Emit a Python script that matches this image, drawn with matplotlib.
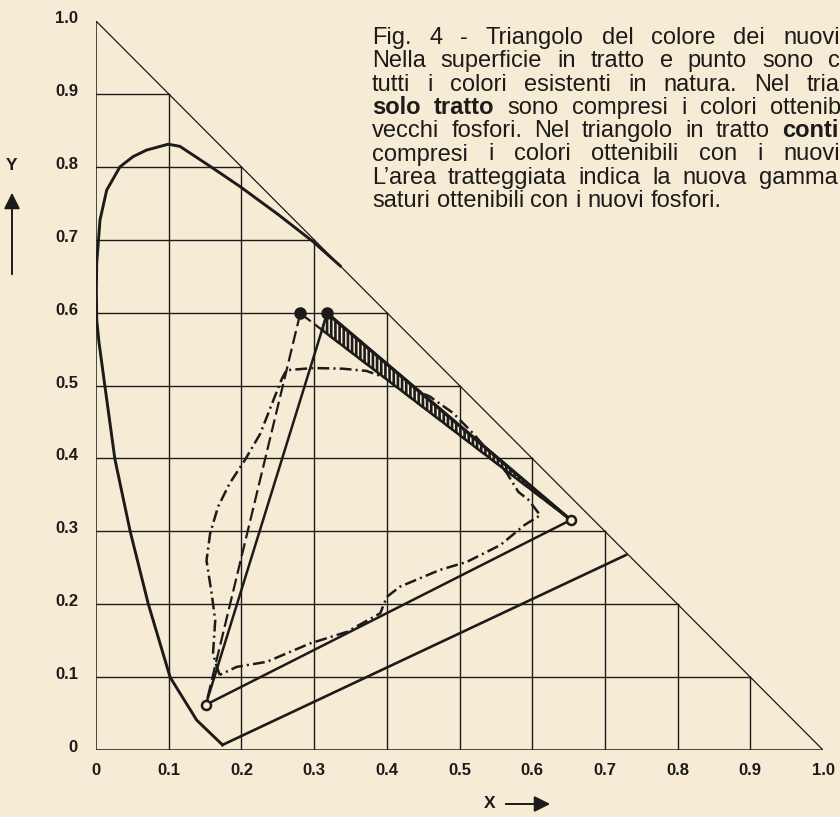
import numpy as np
import matplotlib
matplotlib.use("Agg")
import matplotlib.pyplot as plt
from matplotlib.patches import Polygon, FancyArrowPatch
from matplotlib.transforms import ScaledTranslation

plt.rcParams["lines.scale_dashes"] = False
plt.rcParams["hatch.linewidth"] = 1.9

PAPER = "#F6EBD4"
INK = "#1C1B19"

# ---- chromaticity data (x, y) ----
# spectral locus, from the violet end up over the green peak to the red side
locus_x = [0.174, 0.1385, 0.102, 0.072, 0.047, 0.026, 0.0124, 0.004, 0.001, 0.0005,
           0.001, 0.0055, 0.0147, 0.033, 0.051, 0.0697, 0.0995, 0.1155, 0.161, 0.198,
           0.250, 0.299, 0.336]
locus_y = [0.007, 0.041, 0.0997, 0.200, 0.300, 0.399, 0.498, 0.560, 0.590, 0.630,
           0.668, 0.727, 0.768, 0.800, 0.814, 0.823, 0.831, 0.828, 0.798, 0.773,
           0.735, 0.697, 0.664]
# line of purples
purple_x = [0.174, 0.729]
purple_y = [0.007, 0.2675]

# phosphor primaries
red_xy = (0.653, 0.3155)
blue_xy = (0.151, 0.062)
green_old_xy = (0.281, 0.599)
green_new_xy = (0.318, 0.599)

# boundary of the real surface colours (dash-dot outline)
real_x = [0.170, 0.164, 0.161, 0.164, 0.159, 0.152, 0.157, 0.168, 0.184, 0.205,
          0.226, 0.246, 0.256, 0.262, 0.300, 0.340, 0.372, 0.400, 0.430, 0.459,
          0.4915, 0.519, 0.5465, 0.565, 0.581, 0.595, 0.611, 0.590, 0.556, 0.510,
          0.473, 0.418, 0.400, 0.391, 0.345, 0.294, 0.235, 0.1935, 0.170]
real_y = [0.103, 0.121, 0.133, 0.178, 0.215, 0.260, 0.297, 0.334, 0.366, 0.398,
          0.434, 0.485, 0.510, 0.521, 0.524, 0.523, 0.520, 0.510, 0.497, 0.485,
          0.462, 0.434, 0.402, 0.380, 0.354, 0.343, 0.322, 0.309, 0.281, 0.258,
          0.247, 0.224, 0.210, 0.1875, 0.162, 0.146, 0.121, 0.114, 0.103]

tick_values = [0.0, 0.1, 0.2, 0.3, 0.4, 0.5, 0.6, 0.7, 0.8, 0.9, 1.0]
tick_labels = ["0", "0.1", "0.2", "0.3", "0.4", "0.5", "0.6", "0.7", "0.8", "0.9", "1.0"]

# caption: words of each line (bold flag) and where the last word of a justified line starts
caption_lines = [
    ([("Fig.", 0), ("4", 0), ("-", 0), ("Triangolo", 0), ("del", 0), ("colore", 0), ("dei", 0),
      ("nuovi", 0)], 783),
    ([("Nella", 0), ("superficie", 0), ("in", 0), ("tratto", 0), ("e", 0), ("punto", 0),
      ("sono", 0), ("compresi", 0)], 828),
    ([("tutti", 0), ("i", 0), ("colori", 0), ("esistenti", 0), ("in", 0), ("natura.", 0),
      ("Nel", 0), ("triangolo", 0)], 807),
    ([("solo", 1), ("tratto", 1), ("sono", 0), ("compresi", 0), ("i", 0), ("colori", 0),
      ("ottenibili", 0)], 770),
    ([("vecchi", 0), ("fosfori.", 0), ("Nel", 0), ("triangolo", 0), ("in", 0), ("tratto", 0),
      ("continuo", 1)], 782),
    ([("compresi", 0), ("i", 0), ("colori", 0), ("ottenibili", 0), ("con", 0), ("i", 0),
      ("nuovi", 0)], 783),
    ([("L\u2019area", 0), ("tratteggiata", 0), ("indica", 0), ("la", 0), ("nuova", 0),
      ("gamma", 0)], 759),
    ([("saturi", 0), ("ottenibili", 0), ("con", 0), ("i", 0), ("nuovi", 0), ("fosfori.", 0)], None),
]

W, H = 840, 817
fig = plt.figure(figsize=(W / 100, H / 100), dpi=100, facecolor=PAPER)
ax = fig.add_axes([96 / W, (H - 750) / H, 727 / W, 729 / H])
ax.set_facecolor("none")
ax.set_xlim(0, 1)
ax.set_ylim(0, 1)
for s in ax.spines.values():
    s.set_visible(False)

tick_font = dict(family="Liberation Sans", weight="bold", size=12)
ax.set_xticks(tick_values, tick_labels, **tick_font)
ax.set_yticks(tick_values, tick_labels, **tick_font)
ax.tick_params(axis="x", length=0, pad=9.6, colors=INK)
ax.tick_params(axis="y", length=0, pad=13.0, colors=INK)
for lab in ax.get_yticklabels():
    lab.set_transform(lab.get_transform() + ScaledTranslation(0, 4 / 100, fig.dpi_scale_trans))

# grid clipped to the x + y <= 1 triangle
for v in tick_values[1:-1]:
    ax.plot([v, v], [0, 1 - v], color=INK, lw=1.0, zorder=1)
    ax.plot([0, 1 - v], [v, v], color=INK, lw=1.0, zorder=1)
ax.plot([0, 0], [0, 1], color=INK, lw=1.1, zorder=1)
ax.plot([0, 1], [0, 0], color=INK, lw=1.1, zorder=1)
ax.plot([0, 1], [1, 0], color=INK, lw=0.9, zorder=1)

# spectral locus and purple line
ax.plot(locus_x, locus_y, color=INK, lw=2.1, solid_joinstyle="round", zorder=3)
ax.plot(purple_x, purple_y, color=INK, lw=1.9, zorder=3)

# real colours (dash-dot)
ax.plot(real_x, real_y, color=INK, lw=1.8, linestyle=(0, (8.5, 3.0, 1.5, 3.0)), zorder=3)

# old phosphor triangle (dashed)
ax.plot([green_old_xy[0], blue_xy[0]], [green_old_xy[1], blue_xy[1]], color=INK, lw=1.6,
        linestyle=(0, (9.5, 3.6)), zorder=4)
ax.plot([green_old_xy[0], red_xy[0]], [green_old_xy[1], red_xy[1]], color=INK, lw=1.6,
        linestyle=(0, (9.5, 3.6)), zorder=4)

# new phosphor triangle (solid)
tri_new = [green_new_xy, blue_xy, red_xy, green_new_xy]
ax.plot([p[0] for p in tri_new], [p[1] for p in tri_new], color=INK, lw=1.8, zorder=4,
        solid_joinstyle="round")


def intersect(p1, p2, p3, p4):
    a = np.array(p2) - np.array(p1)
    b = np.array(p4) - np.array(p3)
    m = np.array([a, -b]).T
    t, _ = np.linalg.solve(m, np.array(p3) - np.array(p1))
    return tuple(np.array(p1) + t * a)


# extra gamut of the new phosphors (hatched)
corner = intersect(green_old_xy, red_xy, green_new_xy, blue_xy)
gain = Polygon([green_new_xy, red_xy, corner], closed=True, facecolor=PAPER,
               edgecolor=INK, hatch="||||", lw=1.8, zorder=5)
ax.add_patch(gain)
ax.plot([green_new_xy[0], red_xy[0]], [green_new_xy[1], red_xy[1]], color=INK, lw=2.4, zorder=6)

# primaries
ax.plot([green_old_xy[0], green_new_xy[0]], [green_old_xy[1], green_new_xy[1]], linestyle="none",
        marker="o", ms=8, color=INK, zorder=7)
ax.plot([red_xy[0], blue_xy[0]], [red_xy[1], blue_xy[1]], linestyle="none", marker="o", ms=6.5,
        mfc=PAPER, mec=INK, mew=1.8, zorder=7)

# axis names with arrows
name_font = dict(family="Liberation Sans", weight="bold", size=12.5)
fig.text(12 / W, 1 - 165 / H, "Y", ha="center", va="center", color=INK, **name_font)
fig.add_artist(FancyArrowPatch((12, H - 277), (12, H - 190), transform=None,
                               arrowstyle="-|>,head_length=0.8,head_width=0.4",
                               mutation_scale=12, lw=1.4, color=INK))
fig.text(490 / W, 1 - 804 / H, "X", ha="center", va="center", color=INK, **name_font)
fig.add_artist(FancyArrowPatch((503, H - 804), (553, H - 804), transform=None,
                               arrowstyle="-|>,head_length=0.8,head_width=0.4",
                               mutation_scale=12, lw=1.4, color=INK))

# caption, justified between the left margin and each line's anchor
renderer = fig.canvas.get_renderer()
cap_font = dict(family="Liberation Sans", size=17.0)
left = 372


def word_width(word, bold):
    t = fig.text(0, 0, word, weight="bold" if bold else "normal", **cap_font)
    w = t.get_window_extent(renderer).width
    t.remove()
    return w


space_w = word_width("a a", 0) - word_width("aa", 0)
for i, (words, anchor) in enumerate(caption_lines):
    base = 44 + 23.3 * i
    widths = [word_width(w, b) for w, b in words]
    if anchor is None:
        gap = space_w
    else:
        gap = (anchor - left - sum(widths[:-1])) / (len(words) - 1)
    x = left
    for (word, bold), wd in zip(words, widths):
        fig.text(x / W, 1 - base / H, word, ha="left", va="baseline", color=INK,
                 weight="bold" if bold else "normal", **cap_font)
        x += wd + gap

fig.savefig("out.png", dpi=100, facecolor=PAPER)
